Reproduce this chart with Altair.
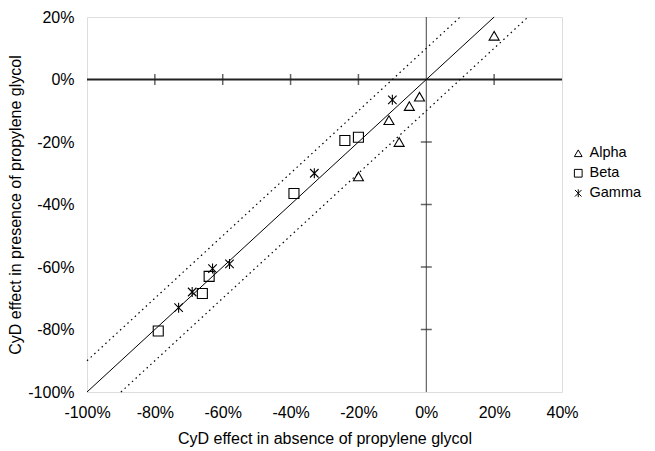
import altair as alt
import pandas as pd

# Data (percent)
alpha_x = [20, -2, -5, -11, -8, -20]
alpha_y = [14, -5.5, -8.5, -13, -20, -31]
beta_x = [-24, -20, -39, -64, -66, -79]
beta_y = [-19.5, -18.5, -36.5, -63, -68.5, -80.5]
gamma_x = [-10, -33, -63, -58, -69, -73]
gamma_y = [-6.5, -30, -60.5, -59, -68, -73]

series_names = ["Alpha", "Beta", "Gamma"]

# reference lines: identity and +/-10% bands
line_id_x = [-100, 20]
line_id_y = [-100, 20]
line_up_x = [-100, 10]
line_up_y = [-90, 20]
line_lo_x = [-90, 30]
line_lo_y = [-100, 20]

x_ticks = [-100, -80, -60, -40, -20, 0, 20, 40]
y_ticks = [-100, -80, -60, -40, -20, 0, 20]
x_cross_ticks = [-80, -60, -40, -20, 20]
y_cross_ticks = [-20, -40, -60, -80]

FONT = "Liberation Sans, Arial"

rows = []
for name, xs, ys in [("Alpha", alpha_x, alpha_y), ("Beta", beta_x, beta_y), ("Gamma", gamma_x, gamma_y)]:
    for a, b in zip(xs, ys):
        rows.append({"x": a, "y": b, "series": name})
pts = pd.DataFrame(rows)

lines = pd.DataFrame(
    [{"x": a, "y": b, "kind": "id"} for a, b in zip(line_id_x, line_id_y)]
    + [{"x": a, "y": b, "kind": "up"} for a, b in zip(line_up_x, line_up_y)]
    + [{"x": a, "y": b, "kind": "lo"} for a, b in zip(line_lo_x, line_lo_y)]
)

xscale = alt.Scale(domain=[-100, 40], nice=False, zero=False)
yscale = alt.Scale(domain=[-100, 20], nice=False, zero=False)

xaxis = alt.Axis(
    title="CyD effect in absence of propylene glycol",
    values=x_ticks, grid=False, ticks=False, tickSize=0, domain=False,
    labelExpr="datum.value + '%'", labelFont=FONT, labelFontSize=16,
    labelColor="black", labelBaseline="alphabetic", labelPadding=25,
    labelFlush=False, labelOverlap=False,
    titleFont=FONT, titleFontSize=16, titleFontWeight="normal", titleColor="black",
    titleBaseline="alphabetic", titleY=51, titlePadding=0,
)
yaxis = alt.Axis(
    title="CyD effect in presence of propylene glycol",
    values=y_ticks, grid=False, ticks=False, tickSize=0, domain=False,
    labelExpr="datum.value + '%'", labelFont=FONT, labelFontSize=16,
    labelColor="black", labelPadding=13, labelFlush=False, labelOverlap=False,
    titleFont=FONT, titleFontSize=16, titleFontWeight="normal", titleColor="black",
    titleBaseline="alphabetic", titleX=-66.5, titleY=187.5, titleAngle=270, titlePadding=0,
)

asterisk = "M-0.85,-0.85L0.85,0.85M0.85,-0.85L-0.85,0.85M0,-1L0,1"

points = alt.Chart(pts).mark_point(
    filled=False, color="black", strokeWidth=1.1, opacity=1, size=100
).encode(
    x=alt.X("x:Q", scale=xscale, axis=xaxis),
    y=alt.Y("y:Q", scale=yscale, axis=yaxis),
    shape=alt.Shape(
        "series:N",
        scale=alt.Scale(domain=series_names, range=["triangle-up", "square", asterisk]),
        legend=alt.Legend(
            title=None, orient="none", legendX=484, legendY=129,
            labelFont=FONT, labelFontSize=14.5, labelColor="black",
            symbolSize=60, symbolStrokeColor="black", symbolStrokeWidth=1,
            symbolFillColor="white", rowPadding=5, labelOffset=4,
        ),
    ),
)

def line_layer(kind, dash):
    d = lines[lines["kind"] == kind]
    props = dict(color="black", strokeWidth=1)
    if dash:
        props["strokeDash"] = [1.5, 3.5]
        props["strokeWidth"] = 1.2
    return alt.Chart(d).mark_line(**props).encode(
        x=alt.X("x:Q", scale=xscale, axis=xaxis),
        y=alt.Y("y:Q", scale=yscale, axis=yaxis),
    )

hzero = alt.Chart(pd.DataFrame({"y": [0]})).mark_rule(color="#222", strokeWidth=1.8).encode(
    y=alt.Y("y:Q", scale=yscale, axis=yaxis)
)
vzero = alt.Chart(pd.DataFrame({"x": [0]})).mark_rule(color="#444", strokeWidth=1).encode(
    x=alt.X("x:Q", scale=xscale, axis=xaxis)
)

xt = alt.Chart(pd.DataFrame({"x": x_cross_ticks, "y": [0] * len(x_cross_ticks)})).mark_tick(
    orient="vertical", size=11, thickness=1.5, color="#222"
).encode(
    x=alt.X("x:Q", scale=xscale, axis=xaxis),
    y=alt.Y("y:Q", scale=yscale, axis=yaxis),
)
yt = alt.Chart(pd.DataFrame({"y": y_cross_ticks, "x": [0] * len(y_cross_ticks)})).mark_tick(
    orient="horizontal", size=11, thickness=1.5, color="#222"
).encode(
    x=alt.X("x:Q", scale=xscale, axis=xaxis),
    y=alt.Y("y:Q", scale=yscale, axis=yaxis),
)

chart = alt.layer(
    hzero, vzero, xt, yt,
    line_layer("up", True), line_layer("lo", True), line_layer("id", False),
    points,
).properties(
    width=475, height=375,
    padding={"left": 79, "top": 9, "right": 85, "bottom": 57},
    autosize=alt.AutoSizeParams(type="none"),
).configure_view(
    stroke="#333", strokeWidth=1.5
).configure(background="white")

chart.save("out.html", embed_options={"renderer": "svg", "actions": False})
